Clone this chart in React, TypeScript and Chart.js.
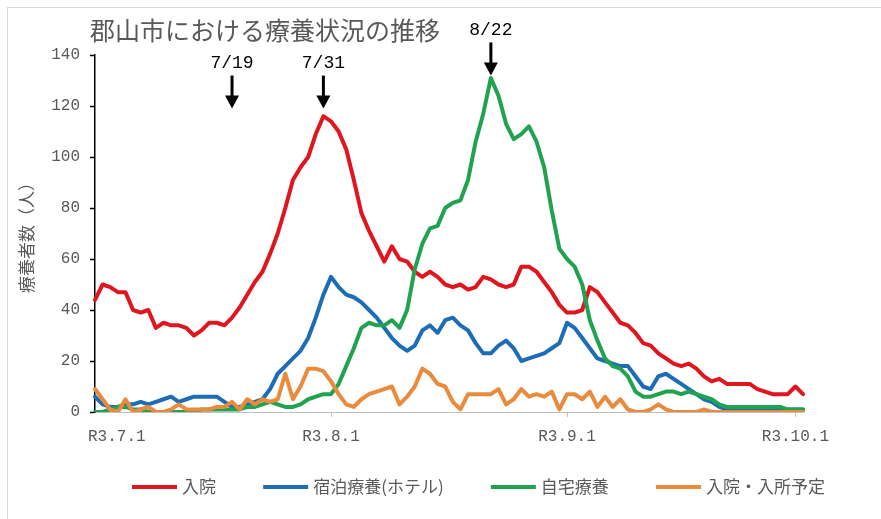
import React, { useEffect, useRef } from "react";
import { Chart, registerables } from "chart.js";

Chart.register(...registerables);

// ---- categories: daily dates 7/1 .. 10/2 (R3 = 2021)
const monthLengths: [number, number][] = [
  [7, 31],
  [8, 31],
  [9, 30],
  [10, 2],
];
const categories: string[] = [];
for (const [m, n] of monthLengths) {
  for (let d = 1; d <= n; d++) categories.push(`${m}/${d}`);
}

// ---- series
const hospitalized = [
  44, 50, 49, 47, 47, 40, 39, 40, 33, 35,
  34, 34, 33, 30, 32, 35, 35, 34, 37, 41,
  46, 51, 55, 62, 70, 80, 91, 96, 100, 109,
  116, 114, 110, 103, 91, 78, 71, 65, 59, 65,
  60, 59, 55, 53, 55, 53, 50, 49, 50, 48,
  49, 53, 52, 50, 49, 50, 57, 57, 55, 51,
  47, 42, 39, 39, 40, 49, 47, 43, 39, 35,
  34, 31, 27, 26, 23, 21, 19, 18, 19, 17,
  14, 12, 13, 11, 11, 11, 11, 9, 8, 7,
  7, 7, 10, 7,
];
const hotel = [
  6, 3, 2, 2, 3, 3, 4, 3, 4, 5,
  6, 4, 5, 6, 6, 6, 6, 4, 2, 2,
  3, 4, 5, 9, 15, 18, 21, 24, 29, 37,
  46, 53, 49, 46, 45, 43, 40, 37, 33, 29,
  26, 24, 26, 32, 34, 31, 36, 37, 34, 32,
  27, 23, 23, 26, 28, 25, 20, 21, 22, 23,
  25, 27, 35, 33, 29, 25, 21, 20, 19, 18,
  18, 14, 10, 9, 14, 15, 13, 11, 9, 7,
  5, 4, 2, 1, 1, 1, 1, 1, 1, 1,
  1, 1, 1, 1,
];
const home = [
  0, 0, 1, 2, 2, 1, 1, 0, 0, 0,
  0, 0, 0, 0, 1, 1, 1, 1, 1, 1,
  2, 2, 3, 4, 3, 2, 2, 3, 5, 6,
  7, 7, 11, 18, 25, 33, 35, 34, 34, 36,
  33, 40, 56, 66, 72, 73, 80, 82, 83, 91,
  106, 117, 131, 124, 113, 107, 109, 112, 106, 96,
  79, 64, 60, 57, 50, 36, 28, 21, 18, 17,
  14, 8, 6, 6, 7, 8, 8, 7, 8, 7,
  6, 5, 3, 2, 2, 2, 2, 2, 2, 2,
  2, 1, 1, 1,
];
const scheduled = [
  9, 5, 1, 0, 5, 0, 1, 2, 0, 0,
  1, 3, 1, 1, 1, 1, 2, 2, 4, 1,
  5, 3, 5, 4, 5, 15, 5, 10, 17, 17,
  16, 12, 7, 3, 2, 5, 7, 8, 9, 10,
  3, 6, 10, 17, 15, 11, 10, 4, 1, 7,
  7, 7, 7, 9, 3, 5, 9, 6, 7, 6,
  8, 1, 7, 7, 5, 8, 2, 6, 2, 5,
  1, 0, 0, 1, 3, 1, 0, 0, 0, 0,
  1, 0, 0, 0, 0, 0, 0, 0, 0, 0,
  0, 0, 0, 0,
];

const seriesNames = ["入院", "宿泊療養(ホテル)", "自宅療養", "入院・入所予定"];
const seriesColors = ["#E0161E", "#1C6DB5", "#20A250", "#E98A3C"];
const seriesData = [hospitalized, hotel, home, scheduled];

const chartTitle = "郡山市における療養状況の推移";
const yAxisTitle = "療養者数（人）";

const xTickIndices = [0, 31, 62, 92];
const xTickLabels = ["R3.7.1", "R3.8.1", "R3.9.1", "R3.10.1"];

const annotationLabels = ["7/19", "7/31", "8/22"];
const annotationIndices = [18, 30, 52];
const annotationTipValues = [119, 119, 132];

const GRAY = "#595959";
const MONO = "'Liberation Mono', 'DejaVu Sans Mono', monospace";
const CJK = "'Noto Sans CJK JP', 'Noto Sans', sans-serif";

const decorPlugin = {
  id: "decor",
  beforeDraw(chart: any) {
    const { ctx, width, height } = chart;
    ctx.save();
    ctx.fillStyle = "#ffffff";
    ctx.fillRect(0, 0, width, height);
    ctx.strokeStyle = "#d9d9d9";
    ctx.lineWidth = 1;
    ctx.strokeRect(7.5, 7.5, width + 20, height + 20);
    ctx.restore();
  },
  afterDraw(chart: any) {
    const { ctx, chartArea } = chart;
    const xs = chart.scales.x;
    const ys = chart.scales.y;
    ctx.save();

    // title
    ctx.fillStyle = GRAY;
    ctx.font = `25px ${CJK}`;
    ctx.textAlign = "left";
    ctx.textBaseline = "middle";
    ctx.fillText(chartTitle, 90, 30);

    // x tick labels
    ctx.font = `16px ${MONO}`;
    ctx.fillStyle = GRAY;
    ctx.textBaseline = "middle";
    xTickIndices.forEach((idx, i) => {
      const px = xs.getPixelForValue(idx);
      if (i === 0) {
        ctx.textAlign = "left";
        ctx.fillText(xTickLabels[i], chartArea.left - 7, 437);
      } else {
        ctx.textAlign = "center";
        ctx.fillText(xTickLabels[i], px, 437);
      }
    });

    // annotations (arrows)
    annotationLabels.forEach((label, i) => {
      const ax = xs.getPixelForValue(annotationIndices[i]);
      const tipY = ys.getPixelForValue(annotationTipValues[i]);
      ctx.fillStyle = "#000";
      ctx.strokeStyle = "#000";
      ctx.font = `18px ${MONO}`;
      ctx.textAlign = "center";
      ctx.textBaseline = "middle";
      ctx.fillText(label, ax, tipY - 45);
      ctx.lineWidth = 3;
      ctx.beginPath();
      ctx.moveTo(ax, tipY - 33);
      ctx.lineTo(ax, tipY - 10);
      ctx.stroke();
      ctx.beginPath();
      ctx.moveTo(ax - 7, tipY - 13);
      ctx.lineTo(ax + 7, tipY - 13);
      ctx.lineTo(ax, tipY);
      ctx.closePath();
      ctx.fill();
    });

    // legend: spans x 132..825 like the reference
    const ds = chart.data.datasets;
    ctx.font = `17px ${CJK}`;
    const lineLen = 45;
    const gapText = 5;
    const widths = ds.map((d: any) => ctx.measureText(d.label).width);
    const itemsW = widths.reduce((a: number, w: number) => a + lineLen + gapText + w, 0);
    const legLeft = 132;
    const legRight = 825;
    const gapItem = Math.max(20, (legRight - legLeft - itemsW) / (ds.length - 1));
    let lx = legLeft;
    const ly = 487;
    ds.forEach((d: any, i: number) => {
      ctx.strokeStyle = d.borderColor;
      ctx.lineWidth = 4;
      ctx.lineCap = "butt";
      ctx.beginPath();
      ctx.moveTo(lx, ly);
      ctx.lineTo(lx + lineLen, ly);
      ctx.stroke();
      ctx.fillStyle = GRAY;
      ctx.textAlign = "left";
      ctx.textBaseline = "middle";
      ctx.fillText(d.label, lx + lineLen + gapText, ly);
      lx += lineLen + gapText + widths[i] + gapItem;
    });

    ctx.restore();
  },
};

export default function App() {
  const ref = useRef<HTMLCanvasElement>(null);

  useEffect(() => {
    if (!ref.current) return;
    const chart = new Chart(ref.current, {
      type: "line",
      data: {
        labels: categories,
        datasets: seriesData.map((data, i) => ({
          label: seriesNames[i],
          data,
          borderColor: seriesColors[i],
          backgroundColor: seriesColors[i],
          borderWidth: 4,
          pointRadius: 0,
          tension: 0,
          fill: false,
          borderJoinStyle: "round" as const,
          borderCapStyle: "round" as const,
          order: seriesData.length - 1 - i,
        })),
      },
      options: {
        responsive: false,
        animation: false,
        devicePixelRatio: 1,
        events: [],
        layout: { padding: { top: 55, right: 78, bottom: 0, left: 0 } },
        plugins: {
          legend: { display: false },
          tooltip: { enabled: false },
          title: { display: false },
        },
        scales: {
          x: {
            type: "category",
            offset: false,
            afterBuildTicks: (s: any) => {
              s.ticks = xTickIndices.map((v) => ({ value: v }));
            },
            afterFit: (s: any) => {
              s.height = 519 - 412;
            },
            ticks: { display: false, autoSkip: false },
            grid: {
              drawOnChartArea: false,
              drawTicks: true,
              tickLength: 5,
              tickWidth: 1,
              tickColor: (c: any) => (c.index === 0 ? "rgba(0,0,0,0)" : "#bfbfbf"),
            },
            border: { color: "#bfbfbf", width: 1 },
          },
          y: {
            min: 0,
            max: 140,
            afterFit: (s: any) => {
              s.width = 95;
            },
            ticks: {
              stepSize: 20,
              padding: 10,
              color: GRAY,
              font: { family: MONO, size: 16 },
            },
            grid: {
              drawOnChartArea: false,
              drawTicks: true,
              tickLength: 5,
              tickWidth: 1.5,
              tickColor: "#000",
            },
            border: { color: "#000", width: 1.5 },
            title: {
              display: true,
              text: yAxisTitle,
              color: GRAY,
              font: { family: CJK, size: 17 },
              padding: { top: 16, bottom: 0 },
            },
          },
        },
      },
      plugins: [decorPlugin],
    });
    return () => chart.destroy();
  }, []);

  return (
    <div
      style={{
        position: "fixed",
        left: 0,
        top: 0,
        width: 881,
        height: 519,
        background: "#fff",
      }}
    >
      <canvas
        ref={ref}
        width={881}
        height={519}
        style={{ display: "block", width: 881, height: 519 }}
      />
    </div>
  );
}
